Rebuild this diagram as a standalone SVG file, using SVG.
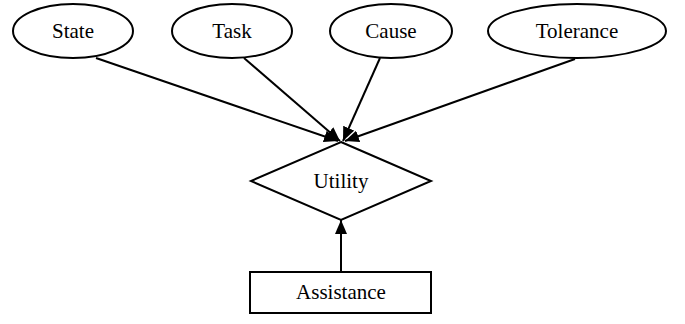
<svg xmlns="http://www.w3.org/2000/svg" width="685" height="324" viewBox="0 0 685 324">
<style>
.n{fill:#fff;stroke:#000;stroke-width:2}
.t{font-family:'Liberation Serif','DejaVu Serif',serif;font-size:21px;text-anchor:middle;fill:#000}
.c{stroke:#000;stroke-width:2;fill:none;marker-end:url(#a)}
</style>
<defs>
<marker id="a" markerWidth="14" markerHeight="12" refX="14" refY="6" orient="auto" markerUnits="userSpaceOnUse">
<path d="M0,0 L14,6 L0,12 Z" fill="#000"/>
</marker>
</defs>
<rect width="685" height="324" fill="#fff"/>
<g id="connectors">
<line class="c" x1="96" y1="58" x2="338" y2="141"/>
<line class="c" x1="244" y1="58" x2="340" y2="141"/>
<line class="c" x1="380" y1="58" x2="343" y2="141"/>
<line class="c" x1="575" y1="59" x2="345" y2="141"/>
<line class="c" x1="341" y1="272" x2="341" y2="220"/>
</g>
<g id="state"><ellipse class="n" cx="73" cy="31" rx="60" ry="27"/><text class="t" x="73" y="38">State</text></g>
<g id="task"><ellipse class="n" cx="232" cy="31" rx="60" ry="27"/><text class="t" x="232" y="38">Task</text></g>
<g id="cause"><ellipse class="n" cx="391" cy="31" rx="61" ry="27"/><text class="t" x="391" y="38">Cause</text></g>
<g id="tolerance"><ellipse class="n" cx="577" cy="31" rx="89" ry="27"/><text class="t" x="577" y="38">Tolerance</text></g>
<g id="utility"><polygon class="n" points="341,142 431,181 341,220 251,181"/><text class="t" x="341" y="188">Utility</text></g>
<g id="assistance"><rect class="n" x="250" y="272" width="181" height="41"/><text class="t" x="341" y="299">Assistance</text></g>
</svg>
